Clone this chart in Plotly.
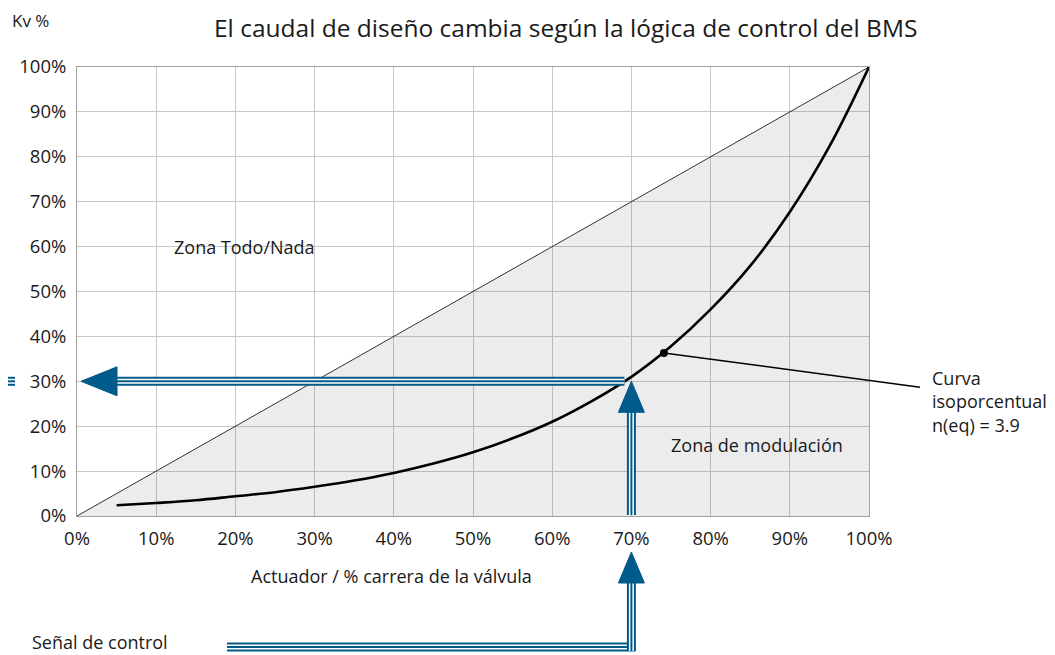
import plotly.graph_objects as go

# ---- data ----
stroke_pct = [5, 10, 15, 20, 25, 30, 35, 40, 45, 50, 55, 60, 65, 70, 75, 80, 85, 90, 95, 100]
kv_pct = [2.4, 2.9, 3.5, 4.4, 5.3, 6.5, 7.9, 9.6, 11.7, 14.2, 17.3, 21.0, 25.6, 31.0, 37.8, 46.0, 55.7, 67.7, 82.3, 100.0]
linear_x = [0, 100]
linear_y = [0, 100]
zone_x = [0, 100, 100, 0]
zone_y = [0, 100, 0, 0]
tick_vals = [0, 10, 20, 30, 40, 50, 60, 70, 80, 90, 100]
tick_text = [f"{v}%" for v in tick_vals]
marker_point = (74.1, 36.3)        # point on the curve labelled
signal_x = 70.0                    # control signal (% stroke)
kv_read = 30.0                     # resulting Kv %

# page body has an 8px margin, so the figure is 8px smaller
W, H = 1047, 647
ML, MT = 69, 59
PW, PH = 792, 449
MR, MB = W - ML - PW, H - MT - PH
BLUE = "#005a8a"
FONT = "Open Sans"
TXT = "#1a1a1a"

def px(v):  # data x -> paper
    return v / 100.0

def py(v):
    return v / 100.0

def dxp(pix):  # pixel offset -> paper
    return pix / PW

def dyp(pix):
    return pix / PH

fig = go.Figure()

fig.add_trace(go.Scatter(x=zone_x, y=zone_y, fill="toself", fillcolor="rgba(0,0,0,0.075)",
                         line=dict(width=0), mode="lines", hoverinfo="skip", showlegend=False))
fig.add_trace(go.Scatter(x=linear_x, y=linear_y, mode="lines", line=dict(color="black", width=0.8),
                         showlegend=False))
fig.add_trace(go.Scatter(x=stroke_pct, y=kv_pct, mode="lines", line=dict(color="black", width=2.6, shape="spline"),
                         showlegend=False))
fig.add_trace(go.Scatter(x=[marker_point[0]], y=[marker_point[1]], mode="markers",
                         marker=dict(color="black", size=8), showlegend=False, cliponaxis=False))

shapes = []

def striped(x0, y0, x1, y1):
    for w, c in [(9, BLUE), (5, "white"), (2, BLUE)]:
        shapes.append(dict(type="line", xref="paper", yref="paper", x0=x0, y0=y0, x1=x1, y1=y1,
                           line=dict(color=c, width=w), layer="above"))

def tri(points):
    p = "M " + " L ".join(f"{a},{b}" for a, b in points) + " Z"
    shapes.append(dict(type="path", xref="paper", yref="paper", path=p, fillcolor=BLUE,
                       line=dict(color=BLUE, width=1), layer="above"))

# horizontal arrow (Kv read-out)
yk = py(kv_read)
striped(px(signal_x) - dxp(7), yk, px(0) + dxp(40), yk)
tri([(px(0) + dxp(4), yk), (px(0) + dxp(40), yk + dyp(14.5)), (px(0) + dxp(40), yk - dyp(14.5))])
# stub at the far left edge
striped(-ML / PW, yk, -ML / PW + dxp(7), yk)

# vertical arrow inside the plot
xs = px(signal_x)
striped(xs, py(0) + dyp(1), xs, yk - dyp(31))
tri([(xs, yk), (xs - dxp(13), yk - dyp(31)), (xs + dxp(13), yk - dyp(31))])

# control-signal line below the axis
yb = -dyp(131)
striped(px(0) + dxp(150), yb, xs + dxp(4), yb)
ytip = -dyp(36)
striped(xs, yb - dyp(4), xs, ytip - dyp(31))
tri([(xs, ytip), (xs - dxp(13), ytip - dyp(31)), (xs + dxp(13), ytip - dyp(31))])

# leader line to label
shapes.append(dict(type="line", xref="paper", yref="paper",
                   x0=px(marker_point[0]), y0=py(marker_point[1]),
                   x1=1 + dxp(51), y1=py(28.7), line=dict(color="black", width=1.5)))

LBL = 18
annotations = [
    dict(text="Kv %", xref="paper", yref="paper", x=-ML / PW + dxp(2), y=1 + dyp(47),
         xanchor="left", yanchor="middle", showarrow=False, font=dict(size=17)),
    dict(text="Zona Todo/Nada", xref="paper", yref="paper", x=px(12), y=py(60),
         xanchor="left", yanchor="middle", showarrow=False, font=dict(size=LBL)),
    dict(text="Zona de modulación", xref="paper", yref="paper", x=px(74.8), y=py(15.8),
         xanchor="left", yanchor="middle", showarrow=False, font=dict(size=LBL)),
    dict(text="Actuador / % carrera de la válvula", xref="paper", yref="paper", x=px(39.7), y=-dyp(60),
         xanchor="center", yanchor="middle", showarrow=False, font=dict(size=LBL)),
    dict(text="Señal de control", xref="paper", yref="paper", x=-ML / PW + dxp(22), y=-dyp(126),
         xanchor="left", yanchor="middle", showarrow=False, font=dict(size=LBL)),
    dict(text="Curva<br>isoporcentual<br>n(eq) = 3.9", xref="paper", yref="paper", x=1 + dxp(61), y=py(25.5),
         xanchor="left", yanchor="middle", align="left", showarrow=False, font=dict(size=LBL)),
    dict(text="El caudal de diseño cambia según la lógica de control del BMS", xref="paper", yref="paper",
         x=(565 - 77) / PW, y=1 + dyp(MT - 1), xanchor="center", yanchor="top", showarrow=False,
         font=dict(size=24.5, family=FONT, color=TXT)),
]

fig.update_layout(
    width=W, height=H,
    margin=dict(l=ML, r=MR, t=MT, b=MB),
    paper_bgcolor="white", plot_bgcolor="white",
    font=dict(family=FONT, size=16, color=TXT),
    shapes=shapes, annotations=annotations, showlegend=False,
)
axis_common = dict(range=[0, 100], tickvals=tick_vals, ticktext=tick_text, showgrid=True,
                   gridcolor="#c8c8c8", gridwidth=1, showline=True, linecolor="#a0a0a0", linewidth=1,
                   mirror=True, zeroline=False, ticks="outside", ticklen=6, tickcolor="rgba(0,0,0,0)",
                   tickfont=dict(size=18.5, family=FONT, color=TXT), fixedrange=True)
fig.update_xaxes(**axis_common)
fig.update_yaxes(**axis_common)

fig.write_html("out.html")
